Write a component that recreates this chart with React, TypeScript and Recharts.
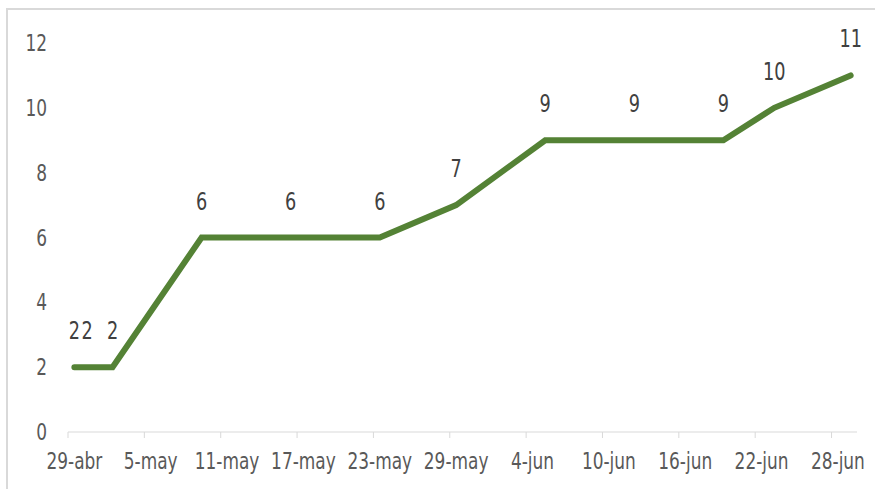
import React from "react"
import { LineChart, Line, XAxis, YAxis, LabelList } from "recharts"

// dates of the readings and the running total
const DATES = [
  "2020-04-29", "2020-04-30", "2020-05-02", "2020-05-09", "2020-05-16", "2020-05-23",
  "2020-05-29", "2020-06-05", "2020-06-12", "2020-06-19", "2020-06-23", "2020-06-29",
]
const VALUES = [2, 2, 2, 6, 6, 6, 7, 9, 9, 9, 10, 11]

const TICK_LABELS = [
  "29-abr", "5-may", "11-may", "17-may", "23-may", "29-may",
  "4-jun", "10-jun", "16-jun", "22-jun", "28-jun",
]
const Y_TICKS = [0, 2, 4, 6, 8, 10, 12]

const START = Date.UTC(2020, 3, 29)
const DAY = 86400000
const DOMAIN_DAYS = 62

const W = 875
const H = 489
const MARGIN = { top: 43, right: 18, bottom: 0, left: 0 }
const Y_WIDTH = 68
const X_HEIGHT = 57

const FONT = '"DejaVu Sans Condensed", "DejaVu Sans", sans-serif'
const SQUEEZE = 0.82

// Excel places each day in the middle of its slot
const data = DATES.map((d, i) => {
  const [y, m, day] = d.split("-").map(Number)
  return { x: (Date.UTC(y, m - 1, day) - START) / DAY + 0.5, value: VALUES[i] }
})
const xTicks = TICK_LABELS.map((_, i) => i * 6)

const halfDay = (W - MARGIN.right - Y_WIDTH) / DOMAIN_DAYS / 2

// narrow text, like the tall Calibri of the original
const Narrow = ({ x, y, anchor, fill, size, children }: any) => (
  <text
    transform={`translate(${x},${y}) scale(${SQUEEZE},1)`}
    textAnchor={anchor}
    fill={fill}
    fontSize={size}
    fontFamily={FONT}
  >
    {children}
  </text>
)

const XTick = (props: any) => {
  const { x, y, payload } = props
  const label = TICK_LABELS[Math.round(payload.value / 6)]
  return (
    <Narrow x={x + halfDay} y={y + 23} anchor="middle" fill="#595959" size={23}>
      {label}
    </Narrow>
  )
}

const YTick = (props: any) => {
  const { x, y, payload } = props
  return (
    <Narrow x={x} y={y + 8} anchor="end" fill="#595959" size={23}>
      {payload.value}
    </Narrow>
  )
}

const ValueLabel = (props: any) => {
  const { x, y, value } = props
  return (
    <Narrow x={x} y={y - 28} anchor="middle" fill="#404040" size={24}>
      {value}
    </Narrow>
  )
}

export default function App() {
  return (
    <div style={{ position: "absolute", left: 0, top: 0, width: W, height: H, overflow: "hidden", background: "#fff" }}>
      <div
        style={{
          position: "absolute", left: 6, top: 8, width: W, height: H,
          borderLeft: "2px solid #d9d9d9", borderTop: "2px solid #d9d9d9",
        }}
      />
      <div style={{ position: "absolute", left: 0, top: 0 }}>
        <LineChart width={W} height={H} data={data} margin={MARGIN}>
          <XAxis
            dataKey="x"
            type="number"
            domain={[0, DOMAIN_DAYS]}
            ticks={xTicks}
            interval={0}
            height={X_HEIGHT}
            stroke="#d9d9d9"
            tickSize={6}
            tickMargin={8}
            tick={<XTick />}
          />
          <YAxis
            domain={[0, 12]}
            ticks={Y_TICKS}
            width={Y_WIDTH}
            axisLine={false}
            tickLine={false}
            tickSize={0}
            tickMargin={21}
            tick={<YTick />}
          />
          <Line
            type="linear"
            dataKey="value"
            stroke="#548235"
            strokeWidth={6}
            strokeLinecap="round"
            strokeLinejoin="miter"
            dot={false}
            activeDot={false}
            isAnimationActive={false}
          >
            <LabelList dataKey="value" content={<ValueLabel />} />
          </Line>
        </LineChart>
      </div>
    </div>
  )
}
